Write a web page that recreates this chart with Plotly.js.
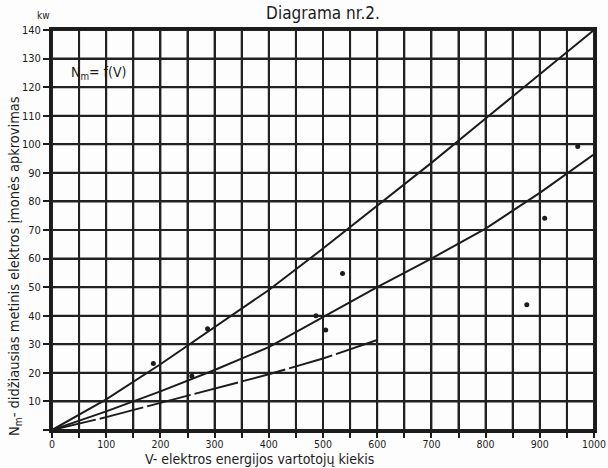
<!DOCTYPE html>
<html>
<head>
<meta charset="utf-8">
<script src="https://cdn.plot.ly/plotly-3.0.1.min.js"></script>
<style>
  html, body { margin: 0; padding: 0; background: #fdfdfd; }
  #chart { width: 608px; height: 468px; }
</style>
</head>
<body>
<div id="chart"></div>
<script>
// Consumers V along the x axis
const consumers = [0, 100, 200, 300, 400, 500, 600, 700, 800, 900, 1000];

// Upper and middle curves of N_m (kW)
const upperCurve = [0, 10.7, 23, 36, 49, 63.5, 78.5, 93.5, 109, 124.5, 140];
const middleCurve = [0, 6.5, 13.5, 21, 29, 39.5, 50, 60, 70.5, 83, 96.5];

// Lower curve, drawn only up to 600 consumers
const lowerConsumers = [0, 100, 200, 300, 400, 500, 600];
const lowerCurve = [0, 4.5, 9.5, 14.5, 19.5, 25, 31.5];

// Observed enterprises
const obsConsumers = [187, 258, 287, 487, 505, 536, 876, 909, 970];
const obsLoad = [23.3, 18.9, 35.4, 40, 35, 54.8, 43.8, 74.1, 99.2];

// Axis ticks: x grid every 50, labelled every 100; y labelled from 10
const xTicks = [0, 50, 100, 150, 200, 250, 300, 350, 400, 450, 500,
                550, 600, 650, 700, 750, 800, 850, 900, 950, 1000];
const xTickText = ['0', '', '100', '', '200', '', '300', '', '400', '', '500',
                   '', '600', '', '700', '', '800', '', '900', '', '1000'];
const yTicks = [0, 10, 20, 30, 40, 50, 60, 70, 80, 90, 100, 110, 120, 130, 140];
const yTickText = ['', '10', '20', '30', '40', '50', '60', '70', '80', '90',
                   '100', '110', '120', '130', '140'];

const ink = '#1c1c1c';
const gridInk = '#222222';
const font = 'DejaVu Sans Condensed, DejaVu Sans, sans-serif';

// Grid of the chart paper: all vertical rules in one broken path,
// all horizontal rules in another, placed on the axes' own scales
const xMin = xTicks[0], xMax = xTicks[xTicks.length - 1];
const yMin = yTicks[0], yMax = yTicks[yTicks.length - 1];
const vGridX = [], vGridY = [], hGridX = [], hGridY = [];
xTicks.forEach(v => { vGridX.push(v, v, null); vGridY.push(yMin, yMax, null); });
yTicks.forEach(v => { hGridX.push(xMin, xMax, null); hGridY.push(v, v, null); });

const traces = [
  { type: 'scatter', mode: 'lines', x: vGridX, y: vGridY, connectgaps: false,
    line: { color: gridInk, width: 2 }, hoverinfo: 'skip' },
  { type: 'scatter', mode: 'lines', x: hGridX, y: hGridY, connectgaps: false,
    line: { color: gridInk, width: 2 }, hoverinfo: 'skip' },
  { type: 'scatter', x: consumers, y: upperCurve, mode: 'lines', line: { color: ink, width: 2 }, hoverinfo: 'skip' },
  { type: 'scatter', x: consumers, y: middleCurve, mode: 'lines', line: { color: ink, width: 2 }, hoverinfo: 'skip' },
  { type: 'scatter', x: lowerConsumers, y: lowerCurve, mode: 'lines', line: { color: ink, width: 2, dash: '45px,4px' }, hoverinfo: 'skip' },
  { type: 'scatter', x: obsConsumers, y: obsLoad, mode: 'markers', marker: { color: ink, size: 5 }, hoverinfo: 'skip' }
];

const axisBase = {
  tickmode: 'array',
  showgrid: true,
  gridcolor: gridInk,
  gridwidth: 2,
  ticks: 'outside',
  tickwidth: 2,
  tickcolor: ink,
  tickfont: { family: font, size: 11, color: ink },
  ticklabeloverflow: 'allow',
  automargin: false,
  showline: true,
  linecolor: ink,
  linewidth: 3,
  mirror: true,
  zeroline: false,
  fixedrange: true
};

const layout = {
  width: 608,
  height: 468,
  margin: { l: 52, r: 14, t: 30, b: 38 },
  paper_bgcolor: '#fdfdfd',
  plot_bgcolor: '#fdfdfd',
  showlegend: false,
  font: { family: font, color: ink, size: 11 },
  title: {
    text: 'Diagrama nr.2.',
    font: { family: font, size: 17, color: ink },
    x: 0.5, xref: 'paper', xanchor: 'center',
    y: 0.972, yref: 'container', yanchor: 'middle'
  },
  xaxis: Object.assign({}, axisBase, {
    range: [0, 1000],
    tickvals: xTicks,
    ticktext: xTickText,
    ticklen: 5,
    ticklabelstandoff: -3,
    tickfont: { family: font, size: 10.5, color: ink }
  }),
  yaxis: Object.assign({}, axisBase, {
    range: [0, 140],
    tickvals: yTicks,
    ticktext: yTickText,
    ticklen: 6
  }),
  annotations: [
    {
      text: 'kw', xref: 'paper', yref: 'paper', x: 0, y: 1,
      xanchor: 'center', yanchor: 'middle',
      xshift: -9, yshift: 15, showarrow: false,
      font: { family: font, size: 10, color: ink }
    },
    {
      text: 'N<sub>m</sub>= f(V)', xref: 'paper', yref: 'paper', x: 0, y: 1,
      xanchor: 'left', yanchor: 'middle', xshift: 17, yshift: -43, showarrow: false,
      font: { family: font, size: 14, color: ink }
    },
    {
      text: 'N<sub>m</sub>- didžiausias metinis elektros įmonės apkrovimas',
      xref: 'paper', yref: 'paper', x: 0, y: 0.41,
      xanchor: 'center', yanchor: 'middle',
      xshift: -37, textangle: -90, showarrow: false,
      font: { family: font, size: 14.5, color: ink }
    },
    {
      text: 'V- elektros energijos vartotojų kiekis',
      xref: 'paper', yref: 'paper', x: 0.382, y: 0,
      xanchor: 'center', yanchor: 'middle',
      yshift: -29, showarrow: false,
      font: { family: font, size: 14, color: ink }
    }
  ]
};

Plotly.newPlot('chart', traces, layout, { staticPlot: true, displayModeBar: false });
</script>
</body>
</html>
